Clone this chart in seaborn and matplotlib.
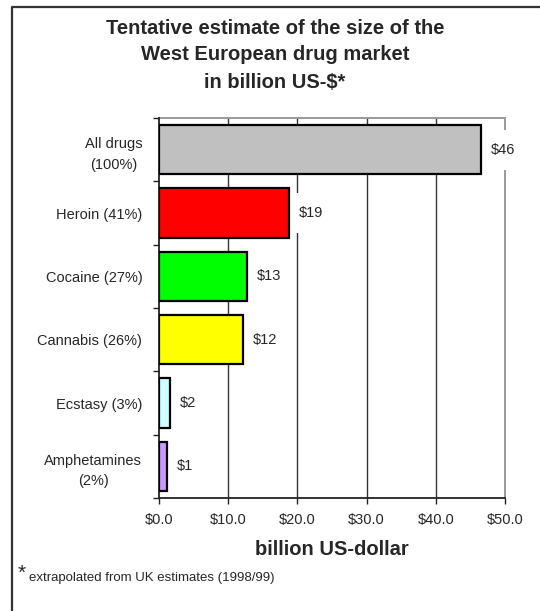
import matplotlib
matplotlib.use("Agg")
import matplotlib.pyplot as plt
import seaborn as sns
import pandas as pd
from matplotlib.lines import Line2D
from matplotlib.ticker import FixedLocator

categories = ["All drugs\n(100%)", "Heroin (41%)", "Cocaine (27%)", "Cannabis (26%)",
              "Ecstasy (3%)", "Amphetamines\n(2%)"]
values = [46.6, 18.8, 12.7, 12.1, 1.6, 1.2]
value_labels = ["$46", "$19", "$13", "$12", "$2", "$1"]
colors = ["#C0C0C0", "#FF0000", "#00FF00", "#FFFF00", "#CCFFFF", "#CC99FF"]
xticks = [0, 10, 20, 30, 40, 50]
xtick_labels = ["$0.0", "$10.0", "$20.0", "$30.0", "$40.0", "$50.0"]

sns.set_style("white")
plt.rcParams['font.family'] = ['Liberation Sans', 'DejaVu Sans']

W, H = 540, 611
fig = plt.figure(figsize=(W / 100, H / 100), dpi=100)
ax = fig.add_axes([159 / W, 1 - 498 / H, (505 - 159) / W, (498 - 118) / H])

df = pd.DataFrame({"cat": categories, "val": values})
sns.barplot(data=df, y="cat", x="val", hue="cat", palette=colors, legend=False,
            orient="h", width=0.78, saturation=1, edgecolor="black", linewidth=1.6,
            ax=ax, zorder=3)

ax.set_xlim(0, 50)
ax.set_ylim(5.5, -0.5)

# gridlines
for xv in xticks[1:-1]:
    ax.axvline(xv, color="#333333", lw=1.0, zorder=0.5)

for s in ["top", "right"]:
    ax.spines[s].set_color("#999999")
    ax.spines[s].set_linewidth(1.4)
    ax.spines[s].set_zorder(0.6)
for s in ["left", "bottom"]:
    ax.spines[s].set_color("#222222")
    ax.spines[s].set_linewidth(1.3)

ax.set_xticks(xticks)
ax.set_xticklabels(xtick_labels, fontsize=10.5)
ax.tick_params(axis="x", direction="out", length=4, width=1, color="#222222", pad=7, bottom=True)

ax.set_yticks(range(len(categories)))
ax.set_yticklabels(categories, fontsize=10.5)
for lbl in ax.get_yticklabels():
    lbl.set_multialignment("center")
    lbl.set_linespacing(1.6)
ax.tick_params(axis="y", which="major", length=0, pad=12, left=True)
ax.yaxis.set_minor_locator(FixedLocator([i + 0.5 for i in range(-1, len(categories))]))
ax.tick_params(axis="y", which="minor", direction="out", length=4, width=1, color="#222222", left=True)

ax.set_ylabel("")
ax.set_xlabel("billion US-dollar", fontsize=14.5, fontweight="bold", labelpad=9)

# value labels with white boxes that interrupt gridlines
for i, (v, t) in enumerate(zip(values, value_labels)):
    ax.annotate(t, xy=(v, i), xytext=(7, 0), textcoords="offset points",
                ha="left", va="center", fontsize=10.5,
                bbox=dict(boxstyle="square,pad=0.9", fc="white", ec="none"), zorder=2)

# title
title_lines = ["Tentative estimate of the size of the", "West European drug market", "in billion US-$*"]
for k, line in enumerate(title_lines):
    fig.text(275 / W, 1 - (28 + 27 * k) / H, line, ha="center", va="center",
             fontsize=14.5, fontweight="bold")

# footnote
fig.text(18 / W, 1 - 573 / H, "*", fontsize=15, ha="left", va="center")
fig.text(29 / W, 1 - 578 / H, "extrapolated from UK estimates (1998/99)", fontsize=9.5,
         ha="left", va="center")

# outer frame (left and top)
fig.add_artist(Line2D([11.5 / W, 11.5 / W, 1.0], [0.0, 1 - 6.5 / H, 1 - 6.5 / H],
                      transform=fig.transFigure, color="#333333", lw=1.6))

fig.savefig("out.png", dpi=100)
